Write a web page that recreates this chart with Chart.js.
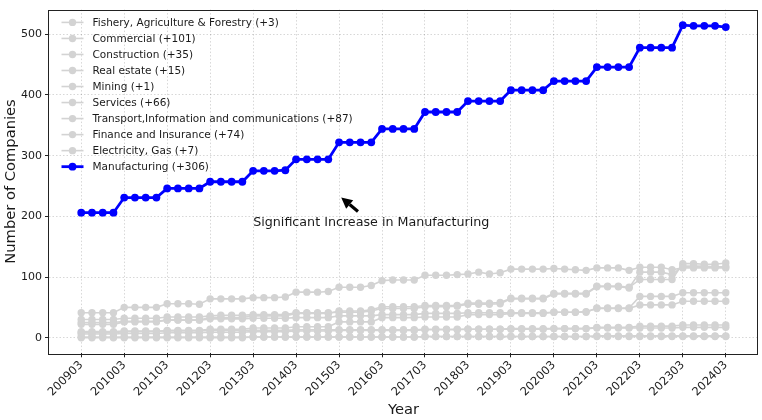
<!DOCTYPE html>
<html>
<head>
<meta charset="utf-8">
<script src="https://cdn.jsdelivr.net/npm/chart.js@4.4.1/dist/chart.umd.min.js"></script>
<style>
  html, body { margin: 0; padding: 0; background: #fff; }
  #chart { display: block; }
</style>
</head>
<body>
<canvas id="chart" width="762" height="420"></canvas>
<script>
// ------------------------- DATA -------------------------
const quarters = [
  '200903','200906','200909','200912',
  '201003','201006','201009','201012',
  '201103','201106','201109','201112',
  '201203','201206','201209','201212',
  '201303','201306','201309','201312',
  '201403','201406','201409','201412',
  '201503','201506','201509','201512',
  '201603','201606','201609','201612',
  '201703','201706','201709','201712',
  '201803','201806','201809','201812',
  '201903','201906','201909','201912',
  '202003','202006','202009','202012',
  '202103','202106','202109','202112',
  '202203','202206','202209','202212',
  '202303','202306','202309','202312',
  '202403'
];

// only the March quarters get a tick label
const xTickLabels = [
  '200903','201003','201103','201203','201303','201403','201503','201603',
  '201703','201803','201903','202003','202103','202203','202303','202403'
];
const yTicks = [0, 100, 200, 300, 400, 500];

const sectorNames = [
  'Fishery, Agriculture & Forestry',
  'Commercial',
  'Construction',
  'Real estate',
  'Mining',
  'Services',
  'Transport,Information and communications',
  'Finance and Insurance',
  'Electricity, Gas',
  'Manufacturing'
];

// one row per year, 200903 .. 202403
const fishery = [
  0,0,0,0, 0,0,0,0, 0,0,0,0, 0,0,0,0,
  1,1,1,1, 1,1,1,1, 1,1,1,1, 1,1,1,1,
  2,2,2,2, 2,2,2,2, 2,2,2,2, 2,2,2,2,
  3,3,3,3, 3,3,3,3, 3,3,3,3,
  3
];
const commercial = [
  22,22,22,22, 26,26,26,26, 29,29,29,29, 33,33,33,33,
  36,36,36,36, 40,40,40,40, 44,44,44,46, 51,51,51,51,
  53,53,53,53, 57,57,57,58, 65,65,65,65, 73,73,73,73,
  85,85,85,83, 96,96,96,96, 122,122,121,121,
  123
];
const construction = [
  25,25,25,25, 27,27,27,27, 29,29,29,29, 31,31,31,31,
  32,32,32,32, 33,33,33,33, 36,36,36,36, 38,38,38,38,
  40,40,40,40, 41,41,41,41, 41,41,41,41, 42,42,42,43,
  48,48,48,48, 54,54,54,54, 60,60,60,60,
  60
];
const realEstate = [
  6,6,6,6, 7,7,7,7, 8,8,8,8, 9,9,9,9,
  10,10,10,10, 11,11,11,11, 12,12,12,12, 12,12,12,12,
  13,13,13,13, 14,14,14,14, 14,14,14,14, 15,15,15,15,
  17,17,17,17, 19,19,19,19, 21,21,21,21,
  21
];
const mining = [
  1,1,1,1, 1,1,1,1, 1,1,1,1, 1,1,1,1,
  1,1,1,1, 1,1,1,1, 1,1,1,1, 1,1,1,1,
  2,2,2,2, 2,2,2,2, 2,2,2,2, 2,2,2,2,
  2,2,2,2, 2,2,2,2, 2,2,2,2,
  2
];
const services = [
  8,8,8,8, 10,10,10,10, 12,12,12,12, 14,14,14,14,
  16,16,16,16, 18,18,18,18, 26,26,26,26, 33,33,33,33,
  34,34,34,34, 38,38,38,38, 40,40,40,40, 42,42,42,42,
  49,49,49,49, 68,68,68,68, 74,74,74,74,
  74
];
const transport = [
  30,30,30,30, 32,32,32,32, 34,34,34,34, 36,37,37,37,
  38,38,38,38, 41,41,41,41, 42,42,42,44, 48,48,48,48,
  51,51,51,52, 55,55,55,56, 64,64,64,64, 72,72,72,72,
  84,84,84,82, 108,108,108,104, 118,118,118,117,
  117
];
const finance = [
  41,41,41,41, 50,50,50,50, 56,56,56,55, 64,64,64,64,
  66,66,66,67, 75,75,75,76, 83,83,83,86, 94,95,95,95,
  103,103,103,104, 105,108,105,107, 113,113,113,113, 114,113,112,111,
  115,115,115,111, 116,116,116,112, 115,115,115,115,
  115
];
const electricity = [
  10,10,10,10, 11,11,11,11, 11,11,11,11, 12,12,12,12,
  12,12,12,12, 13,13,13,13, 13,13,13,13, 13,13,13,13,
  14,14,14,14, 14,14,14,14, 15,15,15,15, 15,15,15,15,
  16,16,16,16, 16,16,16,16, 17,17,17,17,
  17
];
const manufacturing = [
  206,206,206,206, 231,231,231,231, 246,246,246,246, 257,257,257,257,
  275,275,275,276, 294,294,294,294, 322,322,322,322, 344,344,344,344,
  372,372,372,372, 390,390,390,390, 408,408,408,408, 423,423,423,423,
  446,446,446,446, 478,478,478,478, 515,514,514,514,
  512
];

const sectorValues = [
  fishery, commercial, construction, realEstate, mining,
  services, transport, finance, electricity, manufacturing
];

const annotationText = 'Significant Increase in Manufacturing';
const annotationTip = [24.2, 231];   // (quarter index, companies)
const annotationAt = [27, 190];

// ------------------------- STYLE -------------------------
const GRAY = '#d3d3d3';
const BLUE = '#0000ff';
const TEXT = '#1a1a1a';
const FONT = '"DejaVu Sans", sans-serif';
Chart.defaults.font.family = FONT;
Chart.defaults.color = TEXT;

const highlight = 'Manufacturing';

function gain(values) {
  return values[values.length - 1] - values[0];
}

const datasets = sectorNames.map((name, i) => {
  const isMain = name === highlight;
  const color = isMain ? BLUE : GRAY;
  return {
    label: `${name} (+${gain(sectorValues[i])})`,
    data: sectorValues[i].map((v, q) => ({ x: q, y: v })),
    borderColor: color,
    backgroundColor: color,
    pointBackgroundColor: color,
    pointBorderWidth: 0,
    pointRadius: isMain ? 3.9 : 3.7,
    borderWidth: isMain ? 2.8 : 1.6,
    tension: 0,
    fill: false,
    order: sectorNames.length - i   // later series drawn on top, like matplotlib
  };
});

// ------------------------- PLUGINS -------------------------
// Box round the plot + legend in upper-left + arrow annotation
const decorPlugin = {
  id: 'decor',
  afterDatasetsDraw(chart) {
    const { ctx, chartArea, scales } = chart;

    // ----- legend -----
    ctx.save();
    ctx.font = `10.5px ${FONT}`;
    ctx.textBaseline = 'middle';
    ctx.textAlign = 'left';
    chart.data.datasets.forEach((ds, i) => {
      const y = chartArea.top + 12.8 + i * 16.03;
      const x0 = chartArea.left + 12.5;
      ctx.strokeStyle = ds.borderColor;
      ctx.lineWidth = ds.borderWidth;
      ctx.beginPath();
      ctx.moveTo(x0, y);
      ctx.lineTo(x0 + 22, y);
      ctx.stroke();
      ctx.fillStyle = ds.borderColor;
      ctx.beginPath();
      ctx.arc(x0 + 11, y, ds.pointRadius, 0, Math.PI * 2);
      ctx.fill();
      ctx.fillStyle = TEXT;
      ctx.fillText(ds.label, chartArea.left + 43.5, y + 0.5);
    });
    ctx.restore();

    // ----- annotation -----
    const tx = scales.x.getPixelForValue(annotationAt[0]);
    const ty = scales.y.getPixelForValue(annotationAt[1]);
    const hx = scales.x.getPixelForValue(annotationTip[0]);
    const hy = scales.y.getPixelForValue(annotationTip[1]);
    ctx.save();
    ctx.font = `12.7px ${FONT}`;
    ctx.fillStyle = TEXT;
    ctx.textAlign = 'center';
    ctx.textBaseline = 'middle';
    ctx.fillText(annotationText, tx, ty);

    // arrow from just above the text to the tip
    const dx = hx - tx, dy = hy - ty;
    const len = Math.hypot(dx, dy);
    const ux = dx / len, uy = dy / len;
    const startT = 11 / Math.abs(uy);
    const sx = tx + ux * startT, sy = ty + uy * startT;
    const headLen = 11, headHalf = 5.5;
    const bx = hx - ux * headLen, by = hy - uy * headLen;
    ctx.strokeStyle = '#000';
    ctx.fillStyle = '#000';
    ctx.lineWidth = 3.2;
    ctx.beginPath();
    ctx.moveTo(sx, sy);
    ctx.lineTo(bx, by);
    ctx.stroke();
    ctx.beginPath();
    ctx.moveTo(hx, hy);
    ctx.lineTo(bx - uy * headHalf, by + ux * headHalf);
    ctx.lineTo(bx + uy * headHalf, by - ux * headHalf);
    ctx.closePath();
    ctx.fill();
    ctx.restore();
  },
  afterDraw(chart) {
    const { ctx, chartArea } = chart;
    ctx.save();
    ctx.strokeStyle = '#222';
    ctx.lineWidth = 1;
    ctx.strokeRect(Math.round(chartArea.left) - 0.5, Math.round(chartArea.top) + 0.5,
      Math.round(chartArea.right - chartArea.left), Math.round(chartArea.bottom - chartArea.top));
    ctx.restore();
  }
};

// ------------------------- CHART -------------------------
const xTickIdx = xTickLabels.map(l => quarters.indexOf(l));

new Chart(document.getElementById('chart').getContext('2d'), {
  type: 'line',
  data: { datasets },
  options: {
    responsive: false,
    animation: false,
    devicePixelRatio: 1,
    layout: { padding: { top: 2, right: 2, left: 0, bottom: 0 } },
    plugins: { legend: { display: false }, tooltip: { enabled: false } },
    scales: {
      x: {
        type: 'linear',
        min: -3,
        max: quarters.length + 2,
        afterBuildTicks: s => { s.ticks = xTickIdx.map(v => ({ value: v })); },
        afterFit: s => { s.height = 66.7; },
        ticks: {
          autoSkip: false,
          minRotation: 45,
          maxRotation: 45,
          padding: 1,
          color: TEXT,
          font: { size: 11.5 },
          callback: v => quarters[v]
        },
        grid: {
          color: 'rgba(0,0,0,0.2)',
          lineWidth: 0.8,
          tickLength: 4,
          tickColor: '#222',
          tickWidth: 1,
          tickBorderDash: []
        },
        border: { display: false, dash: [1.5, 2] },
        title: {
          display: true,
          text: 'Year',
          color: TEXT,
          font: { size: 14.7 },
          padding: { top: 0, bottom: 1 }
        }
      },
      y: {
        type: 'linear',
        min: -25.75,
        max: 540.75,
        afterBuildTicks: s => { s.ticks = yTicks.map(v => ({ value: v })); },
        afterFit: s => { s.width = 49; },
        ticks: { padding: 3, color: TEXT, font: { size: 11 } },
        grid: {
          color: 'rgba(0,0,0,0.2)',
          lineWidth: 0.8,
          tickLength: 4,
          tickColor: '#222',
          tickWidth: 1,
          tickBorderDash: []
        },
        border: { display: false, dash: [1.5, 2] },
        title: {
          display: true,
          text: 'Number of Companies',
          color: TEXT,
          font: { size: 14.7 },
          padding: { top: 2, bottom: 0 }
        }
      }
    }
  },
  plugins: [decorPlugin]
});
</script>
</body>
</html>
